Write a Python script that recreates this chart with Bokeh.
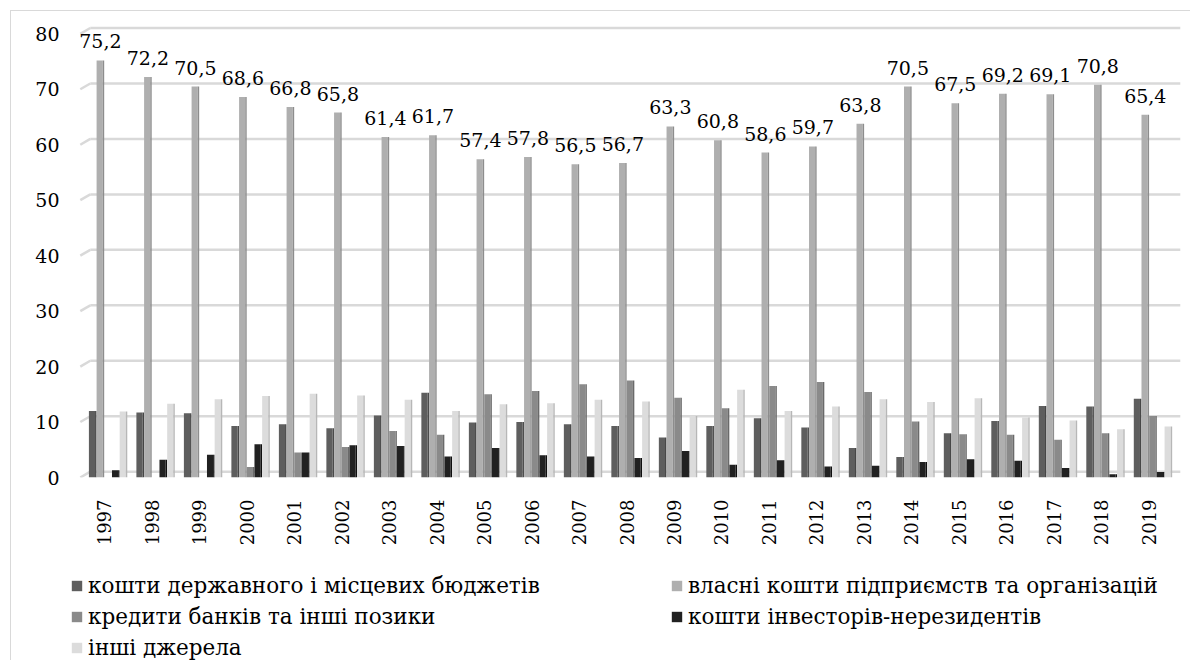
import math
from bokeh.plotting import figure
from bokeh.layouts import column
from bokeh.models import ColumnDataSource, FactorRange, Legend, LegendItem, FixedTicker
from bokeh.transform import dodge
from bokeh.core.properties import value
from bokeh.embed import file_html
from bokeh.resources import INLINE

years = ["1997", "1998", "1999", "2000", "2001", "2002", "2003", "2004", "2005", "2006", "2007", "2008",
         "2009", "2010", "2011", "2012", "2013", "2014", "2015", "2016", "2017", "2018", "2019"]
budget = [12.0, 11.7, 11.6, 9.3, 9.6, 8.9, 11.2, 15.3, 9.9, 10.0, 9.6, 9.3,
          7.2, 9.3, 10.7, 9.0, 5.3, 3.7, 8.0, 10.2, 12.9, 12.8, 14.2]
own = [75.2, 72.2, 70.5, 68.6, 66.8, 65.8, 61.4, 61.7, 57.4, 57.8, 56.5, 56.7,
       63.3, 60.8, 58.6, 59.7, 63.8, 70.5, 67.5, 69.2, 69.1, 70.8, 65.4]
credit = [0.0, 0.0, 0.0, 1.9, 4.5, 5.5, 8.4, 7.7, 15.0, 15.6, 16.8, 17.5,
          14.4, 12.5, 16.5, 17.2, 15.4, 10.1, 7.8, 7.7, 6.8, 8.0, 11.1]
nonres = [1.3, 3.2, 4.1, 6.0, 4.5, 5.8, 5.7, 3.8, 5.3, 4.0, 3.8, 3.5,
          4.8, 2.3, 3.1, 2.0, 2.1, 2.8, 3.3, 3.0, 1.7, 0.6, 1.0]
other = [11.9, 13.3, 14.1, 14.7, 15.1, 14.8, 14.0, 12.0, 13.2, 13.4, 14.0, 13.7,
         11.1, 15.8, 12.0, 12.8, 14.1, 13.6, 14.3, 10.8, 10.3, 8.7, 9.2]
series_names = ["кошти державного і місцевих бюджетів", "власні кошти підприємств та організацій",
                "кредити банків та інші позики", "кошти інвесторів-нерезидентів", "інші джерела"]
y_ticks = [0, 10, 20, 30, 40, 50, 60, 70, 80]

FONT = "DejaVu Serif"
FS_NUM = "19px"
FS_YEAR = "18px"
FS_LEG = "21.5px"

source = ColumnDataSource(dict(
    years=years, budget=budget, own=own, credit=credit, nonres=nonres, other=other,
    own_label=[f"{v:.1f}".replace(".", ",") for v in own],
))

W = 1190
p = figure(x_range=FactorRange(factors=years, range_padding=0.0326), y_range=(0, 81.5),
           width=W, height=548, output_backend="svg", toolbar_location=None,
           min_border_left=62, min_border_right=0, min_border_top=25, min_border_bottom=69)
p.outline_line_color = None
p.background_fill_alpha = 0
p.border_fill_alpha = 0

# back-wall gridlines with a short slanted end, as in the 3-D reference
grid_src = ColumnDataSource(dict(y=y_ticks, x0=[years[0]] * len(y_ticks), x1=[years[-1]] * len(y_ticks)))
p.segment(x0=dodge("x0", -0.29, range=p.x_range), y0=dodge("y", 1.05),
          x1=dodge("x1", 0.66, range=p.x_range), y1=dodge("y", 1.05),
          source=grid_src, line_color="#d9d9d9", line_width=2.5)
p.segment(x0=dodge("x0", -0.5, range=p.x_range), y0="y",
          x1=dodge("x0", -0.29, range=p.x_range), y1=dodge("y", 1.05),
          source=grid_src, line_color="#d9d9d9", line_width=2.5)

fields = ["budget", "own", "credit", "nonres", "other"]
offsets = [-0.324, -0.162, 0.0, 0.162, 0.324]
shift = 0.085
fronts = ["#5e5e5e", "#afafaf", "#8a8a8a", "#212121", "#dcdcdc"]
sides = ["#464646", "#8d8d8d", "#6a6a6a", "#101010", "#b7b7b7"]

for f, off, fc, sc in zip(fields, offsets, fronts, sides):
    p.vbar(x=dodge("years", off + shift - 0.015, range=p.x_range), top=f, width=0.13, source=source,
           fill_color=fc, line_color=None)
    p.vbar(x=dodge("years", off + shift + 0.065, range=p.x_range), top=f, width=0.03, source=source,
           fill_color=sc, line_color=None)

p.text(x=dodge("years", -0.162 + shift, range=p.x_range), y="own", text="own_label", source=source,
       text_align="center", text_baseline="bottom", y_offset=-12,
       text_font=value(FONT), text_font_size=FS_NUM, text_color="black")

p.ygrid.grid_line_color = None
p.xgrid.grid_line_color = None

p.yaxis.ticker = FixedTicker(ticks=y_ticks)
p.yaxis.axis_line_color = None
p.yaxis.major_tick_line_color = None
p.yaxis.minor_tick_line_color = None
p.yaxis.major_label_standoff = -3
p.yaxis.major_label_text_font = FONT
p.yaxis.major_label_text_font_size = FS_NUM
p.yaxis.major_label_text_color = "black"

p.xaxis.axis_line_color = None
p.xaxis.major_tick_line_color = None
p.xaxis.major_label_orientation = math.pi / 2
p.xaxis.major_label_standoff = 16
p.xaxis.major_label_text_font = FONT
p.xaxis.major_label_text_font_size = FS_YEAR
p.xaxis.major_label_text_color = "black"

lp = figure(width=W, height=112, x_range=(0, 1), y_range=(0, 1), output_backend="svg",
            toolbar_location=None, x_axis_type=None, y_axis_type=None,
            min_border_left=62, min_border_right=0, min_border_top=0, min_border_bottom=0)
lp.outline_line_color = None
lp.xgrid.grid_line_color = None
lp.ygrid.grid_line_color = None
lp.background_fill_alpha = 0
lp.border_fill_alpha = 0

hidden = ColumnDataSource(dict(x=[5.0], top=[5.0]))
leg_r = {}
for f, fc, nm in zip(fields, fronts, series_names):
    leg_r[f] = (lp.vbar(x="x", top="top", width=0.1, source=hidden, fill_color=fc, line_color=None), nm)


def make_legend(keys, loc):
    items = [LegendItem(label=leg_r[k][1], renderers=[leg_r[k][0]]) for k in keys]
    return Legend(items=items, location=loc, border_line_color=None, background_fill_alpha=0,
                  padding=0, margin=0, spacing=5, glyph_width=13, glyph_height=13,
                  label_height=26, label_standoff=5,
                  label_text_font=FONT, label_text_font_size=FS_LEG, label_text_color="black")


lp.add_layout(make_legend(["budget", "credit", "other"], (8, 0)), "center")
lp.add_layout(make_legend(["own", "nonres"], (608, 31)), "center")

frame_css = ("linear-gradient(#d9d9d9, #d9d9d9) 10px 10px / 1px calc(100% - 10px) no-repeat, "
             "linear-gradient(#d9d9d9, #d9d9d9) 10px 10px / calc(100% - 10px) 1px no-repeat, #ffffff")
layout = column(p, lp, spacing=0, styles={"background": frame_css})
open("out.html", "w").write(file_html(layout, INLINE))
